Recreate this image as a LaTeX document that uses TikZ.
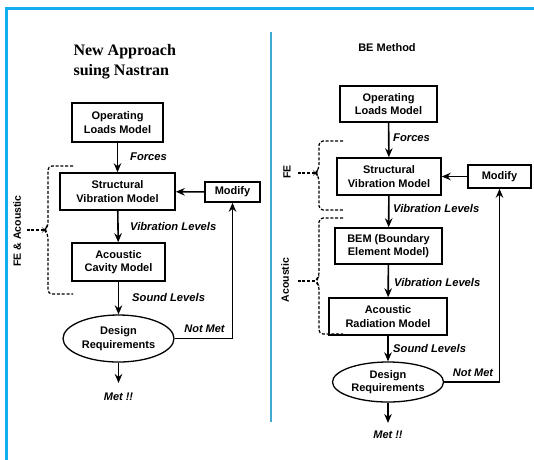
\documentclass[tikz,border=0pt]{standalone}
\usepackage{fontspec}
\setmainfont{Liberation Sans}
\newfontfamily\titlefont{Liberation Serif}
\usetikzlibrary{arrows.meta, positioning, shapes.geometric}

\definecolor{framecol}{HTML}{14AEF0}
\definecolor{splitcol}{HTML}{3FA9D2}

\tikzset{
  block/.style={draw, line width=1.5pt, align=center, inner sep=0pt,
    font=\bfseries\fontsize{11}{13.5}\selectfont},
  goal/.style={ellipse, draw, line width=1.3pt, align=center, inner sep=0pt,
    minimum width=111pt, font=\bfseries\fontsize{11}{13.5}\selectfont},
  flow/.style={font=\bfseries\itshape\fontsize{11.2}{13}\selectfont, anchor=west, inner sep=0pt},
  side/.style={font=\bfseries\fontsize{10.5}{12}\selectfont, rotate=90, inner sep=0pt},
  link/.style={line width=1.6pt, -{Stealth[length=9pt,width=7.5pt]}},
  bracket/.style={line width=1.2pt, dash pattern=on 3pt off 1.8pt, rounded corners=4pt},
}

\begin{document}
\begin{tikzpicture}[x=1pt, y=-1pt]
  \useasboundingbox (0,0) rectangle (534,459);
  % Frame and divider
  \draw[framecol, line width=3pt] (6,460) -- (6,8) -- (535,8);
  \draw[splitcol, line width=1.3pt] (271,32) -- (271,422);

  % ---------------- Left: new approach ----------------
  \node[font=\titlefont\bfseries\fontsize{16}{20}\selectfont, align=left, anchor=west]
    (titleL) at (70,62) {New Approach\\suing Nastran};

  \node[block, minimum width=91pt, minimum height=39pt] (loadsL) at (117.5,122.5) {Operating\\Loads Model};
  \node[block, minimum width=115pt, minimum height=37pt] (structL) at (117.5,191.5) {Structural\\Vibration Model};
  \node[block, minimum width=55pt, minimum height=20pt] (modL) at (232.5,192) {Modify};
  \node[block, minimum width=93pt, minimum height=38pt] (cavL) at (118.5,262) {Acoustic\\Cavity Model};
  \node[goal, minimum height=47pt] (reqL) at (118.5,338.5) {Design\\Requirements};
  \node[font=\bfseries\itshape\fontsize{11}{13}\selectfont] (metL) at (118.5,397) {Met !!};
  \coordinate (endL) at (118.5,383);
  \coordinate (turnL) at (232.5,338.5);

  \draw[link] (loadsL) -- (structL);
  \draw[link] (structL) -- (cavL);
  \draw[link] (cavL) -- (reqL);
  \draw[link] (reqL) -- (endL);
  \draw[link] (modL) -- (structL);
  \draw[link] (reqL.east) -- (turnL) -- (modL);

  \node[flow] (forceL) at (130,157) {Forces};
  \node[flow] (vibL) at (130,226) {Vibration Levels};
  \node[flow] (soundL) at (132,297) {Sound Levels};
  \node[font=\bfseries\itshape\fontsize{11}{13}\selectfont] (notL) at (204.5,329) {Not Met};

  % FE & Acoustic bracket
  \draw[bracket] (73,166) -| (48,226) -- (44,230) -- (48,234) |- (73,294);
  \draw[bracket] (44,230) -- (26,230);
  \node[side] (feacL) at (17,231) {FE \& Acoustic};

  % ---------------- Right: BE method ----------------
  \node[font=\bfseries\fontsize{11}{13}\selectfont] (titleR) at (387,48) {BE Method};

  \node[block, minimum width=97pt, minimum height=36pt] (loadsR) at (388.5,104) {Operating\\Loads Model};
  \node[block, minimum width=104pt, minimum height=37pt] (structR) at (389,176.5) {Structural\\Vibration Model};
  \node[block, minimum width=63pt, minimum height=23pt] (modR) at (499.5,176.5) {Modify};
  \node[block, minimum width=107pt, minimum height=36pt] (bemR) at (388.5,246) {BEM (Boundary\\Element Model)};
  \node[block, minimum width=118pt, minimum height=37pt] (radR) at (388,316.5) {Acoustic\\Radiation Model};
  \node[goal, minimum height=40pt] (reqR) at (388,382) {Design\\Requirements};
  \node[font=\bfseries\itshape\fontsize{11}{13}\selectfont] (metR) at (388,435) {Met !!};
  \coordinate (endR) at (388,423);
  \coordinate (turnR) at (499.5,382);

  \draw[link] (loadsR) -- (structR);
  \draw[link] (structR) -- (bemR);
  \draw[link] (bemR) -- (radR);
  \draw[link] (radR) -- (reqR);
  \draw[link] (reqR) -- (endR);
  \draw[link] (modR) -- (structR);
  \draw[link] (reqR.east) -- (turnR) -- (modR);

  \node[flow] (forceR) at (393,138) {Forces};
  \node[flow] (vibR) at (393,208) {Vibration Levels};
  \node[flow] (vib2R) at (394,282) {Vibration Levels};
  \node[flow] (soundR) at (393,348) {Sound Levels};
  \node[font=\bfseries\itshape\fontsize{11}{13}\selectfont] (notR) at (473,373) {Not Met};

  % FE and Acoustic brackets
  \draw[bracket] (343,141) -| (319,169) -- (315,173) -- (319,177) |- (343,210);
  \draw[bracket] (315,173) -- (296,173);
  \node[side] (feR) at (287,172) {FE};
  \draw[bracket] (343,218) -| (319,277) -- (315,281) -- (319,285) |- (343,334);
  \draw[bracket] (315,281) -- (296,281);
  \node[side] (acR) at (285,280) {Acoustic};
\end{tikzpicture}
\end{document}
